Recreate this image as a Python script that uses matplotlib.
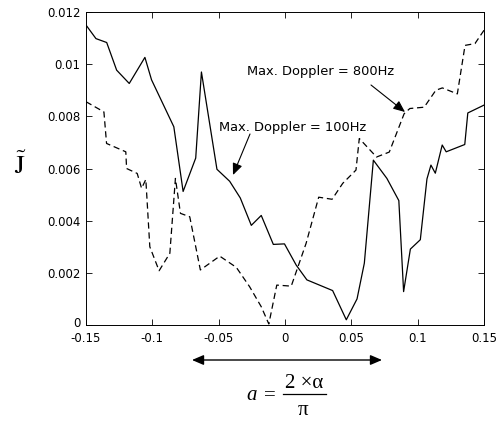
import matplotlib

matplotlib.use("Agg")
import matplotlib.pyplot as plt
from matplotlib.lines import Line2D
from matplotlib.transforms import ScaledTranslation

# Cost J~ vs normalised offset a, for two maximum Doppler settings.
x_100hz = [-0.15, -0.1425, -0.1344, -0.1269, -0.1174, -0.1056, -0.1006, -0.0838,
           -0.0768, -0.0673, -0.063, -0.0513, -0.0417, -0.0337, -0.0254, -0.0179,
           -0.0088, -0.0004, 0.0084, 0.0165, 0.0359, 0.0462, 0.0543, 0.0598,
           0.0666, 0.0768, 0.0858, 0.0894, 0.0945, 0.1020, 0.1070, 0.1100,
           0.1133, 0.1185, 0.1215, 0.1355, 0.1378, 0.15]
j_100hz = [0.0115, 0.01098, 0.01083, 0.00977, 0.00926, 0.01026, 0.0094, 0.0076,
           0.00512, 0.0064, 0.0097, 0.00597, 0.00551, 0.00487, 0.00382, 0.0042,
           0.00309, 0.00311, 0.0023, 0.00173, 0.00132, 0.0002, 0.001, 0.00237,
           0.00632, 0.00562, 0.00477, 0.00128, 0.00291, 0.00327, 0.0056, 0.00613,
           0.00582, 0.0069, 0.00664, 0.00692, 0.00813, 0.00843]

x_800hz = [-0.15, -0.1365, -0.1345, -0.12, -0.1194, -0.1114, -0.1081, -0.1049,
           -0.1019, -0.0949, -0.0868, -0.0826, -0.0788, -0.0718, -0.0638, -0.0492,
           -0.0367, -0.0267, -0.0179, -0.0122, -0.0062, 0.0047, 0.0159, 0.0254,
           0.0355, 0.0435, 0.0535, 0.056, 0.069, 0.0786, 0.0898, 0.0941, 0.1049,
           0.1137, 0.1186, 0.1299, 0.1357, 0.1432, 0.15]
j_800hz = [0.00856, 0.00817, 0.00696, 0.00664, 0.006, 0.00581, 0.00524, 0.00558,
           0.003, 0.00208, 0.00275, 0.00562, 0.00428, 0.00415, 0.00211, 0.00264,
           0.00221, 0.00147, 0.0007, 0.00004, 0.00153, 0.00149, 0.00313, 0.0049,
           0.00482, 0.00543, 0.00594, 0.00715, 0.00644, 0.00663, 0.0081, 0.0083,
           0.00835, 0.009, 0.00909, 0.00886, 0.01072, 0.01079, 0.0113]

x_ticks = [-0.15, -0.1, -0.05, 0, 0.05, 0.1, 0.15]
x_tick_labels = ["-0.15", "-0.1", "-0.05", "0", "0.05", "0.1", "0.15"]
y_ticks = [0, 0.002, 0.004, 0.006, 0.008, 0.01, 0.012]
y_tick_labels = ["0", "0.002", "0.004", "0.006", "0.008", "0.01", "0.012"]

W, H = 503, 422
plt.rcParams["mathtext.fontset"] = "stix"
fig = plt.figure(figsize=(W / 100, H / 100), dpi=100)
ax = fig.add_axes([86 / W, 1 - 325 / H, 398 / W, 313 / H])


def px(x, y):
    """Figure pixel position (from top-left) to figure fraction."""
    return x / W, 1 - y / H


ax.plot(x_100hz, j_100hz, color="black", linewidth=0.9)
ax.plot(x_800hz, j_800hz, color="black", linewidth=0.9, dashes=(5, 3))

ax.set_xlim(-0.15, 0.15)
ax.set_ylim(0, 0.012)
ax.set_xticks(x_ticks)
ax.set_xticklabels(x_tick_labels)
ax.set_yticks(y_ticks)
ax.set_yticklabels(y_tick_labels)
ax.tick_params(direction="in", top=True, right=True, length=4, width=0.6,
               labelsize=8.5, pad=4)
ax.tick_params(axis="x", pad=5)
for label in ax.get_xticklabels() + ax.get_yticklabels():
    label.set_family("DejaVu Sans")
# the "0" on the y axis sits a little high, clear of the x labels
zero_label = ax.get_yticklabels()[0]
zero_label.set_transform(zero_label.get_transform()
                         + ScaledTranslation(0, 3 / 100, fig.dpi_scale_trans))
for spine in ax.spines.values():
    spine.set_linewidth(0.7)

# annotations
text_kw = dict(fontsize=9.4, family="DejaVu Sans", va="center")
arrow_kw = dict(arrowstyle="-|>,head_length=0.7,head_width=0.3", color="black",
                linewidth=0.8, shrinkA=0, shrinkB=0)
ax.annotate("", xy=px(405, 112), xycoords="figure fraction",
            xytext=px(371, 85), textcoords="figure fraction", arrowprops=arrow_kw)
fig.text(*px(247, 72), "Max. Doppler = 800Hz", **text_kw)
ax.annotate("", xy=px(233, 175), xycoords="figure fraction",
            xytext=px(250, 134), textcoords="figure fraction", arrowprops=arrow_kw)
fig.text(*px(219, 127), "Max. Doppler = 100Hz", **text_kw)

# y label: J with a tilde
fig.text(*px(20, 166), r"$\tilde{\mathrm{J}}$", fontsize=19,
         ha="center", va="center")

# x label: double arrow and a = 2 x alpha / pi
ax.annotate("", xy=px(192, 360), xycoords="figure fraction",
            xytext=px(382, 360), textcoords="figure fraction",
            arrowprops=dict(arrowstyle="<|-|>,head_length=0.7,head_width=0.3",
                            color="black", linewidth=1.0, shrinkA=0, shrinkB=0))
serif = dict(family="Liberation Serif", fontsize=15, ha="center")
fig.text(*px(252, 400), "a", style="italic", va="baseline", **serif)
fig.text(*px(270, 400), "=", va="baseline", **serif)
fig.text(*px(304, 388), "2 \u00d7\u03b1", va="baseline", **serif)
fig.add_artist(Line2D([283 / W, 326 / W], [1 - 394 / H, 1 - 394 / H],
                      color="black", linewidth=0.9, transform=fig.transFigure))
fig.text(*px(303, 415), "\u03c0", va="baseline", **serif)

fig.savefig("out.png", dpi=100)
